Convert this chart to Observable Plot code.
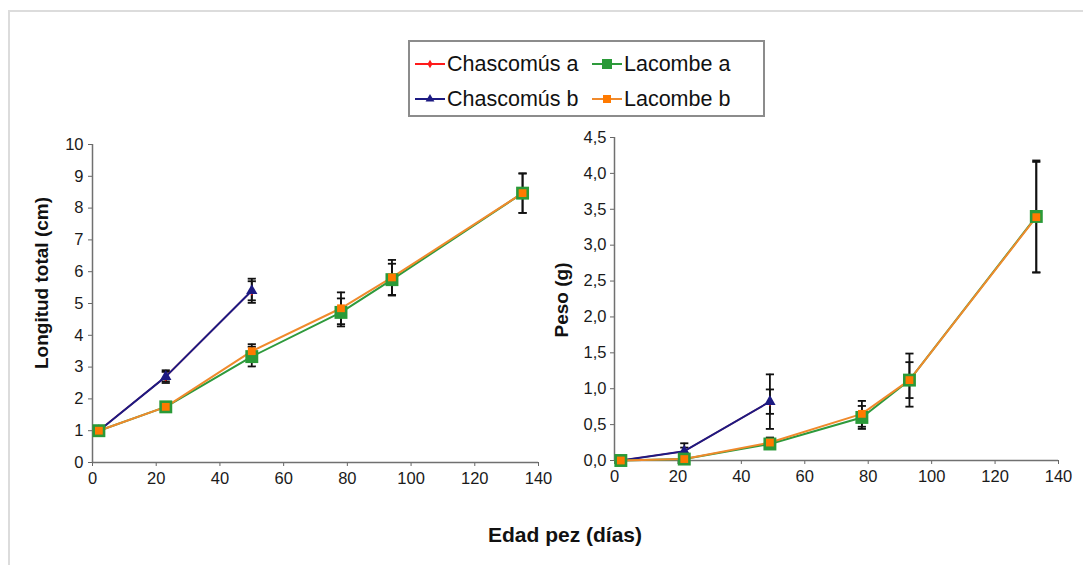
<!DOCTYPE html>
<html><head><meta charset="utf-8">
<script src="https://cdn.jsdelivr.net/npm/d3@7"></script>
<script src="https://cdn.jsdelivr.net/npm/@observablehq/plot@0.6"></script>
<style>
body{margin:0;background:#fff;font-family:"Liberation Sans",Arial,sans-serif;}
#wrap{position:relative;width:1083px;height:565px;overflow:hidden;background:#fff;}
#frame{position:absolute;left:8px;top:10px;right:-4px;bottom:-4px;border-top:2px solid #dcdcdc;border-left:2px solid #dcdcdc;}
.plot{position:absolute;top:120px;}
.plot svg text{font-size:16.5px !important;font-family:"Liberation Sans",Arial,sans-serif;fill:#1a1a1a;}
#legend{position:absolute;left:408px;top:40px;width:353px;height:73px;border:2px solid #8c8c8c;background:#fff;}
.item{position:absolute;font-size:21.5px;color:#111;display:flex;align-items:center;height:26px;}
.item svg{margin-right:1px;}
.ytitle{position:absolute;font-weight:bold;font-size:19px;color:#111;white-space:nowrap;transform:translate(-50%,-50%) rotate(-90deg);}
#xtitle{position:absolute;left:565px;top:535px;transform:translate(-50%,-50%);font-weight:bold;font-size:21px;color:#111;white-space:nowrap;}
</style></head>
<body>
<div id="wrap">
  <div id="frame"></div>
  <div id="p1" class="plot" style="left:0px"></div>
  <div id="p2" class="plot" style="left:540px"></div>
  <div id="legend"></div>
  <div class="ytitle" style="left:42px;top:283px">Longitud total (cm)</div>
  <div class="ytitle" style="left:562px;top:300px">Peso (g)</div>
  <div id="xtitle">Edad pez (días)</div>
</div>
<script>
// ---- Data ----
const seriesNames = ["Chascomús a", "Chascomús b", "Lacombe a", "Lacombe b"];

// Longitud total (cm)
const ageLen = [2, 23, 50, 78, 94, 135];
const chasALen = [1.0, 2.7, 5.4];
const chasALenErr = [0.03, 0.15, 0.3];
const chasBLen = [1.0, 2.7, 5.4];
const chasBLenErr = [0.03, 0.2, 0.38];
const lacALen = [1.0, 1.75, 3.33, 4.72, 5.75, 8.47];
const lacALenErr = [0.03, 0.05, 0.31, 0.44, 0.5, 0.62];
const lacBLen = [1.0, 1.75, 3.5, 4.85, 5.82, 8.47];
const lacBLenErr = [0.03, 0.05, 0.22, 0.5, 0.55, 0.62];

// Peso (g)
const ageW = [2, 22, 49, 78, 93, 133];
const chasAW = [0.0, 0.13, 0.82];
const chasAWErr = [0.0, 0.05, 0.17];
const chasBW = [0.0, 0.13, 0.82];
const chasBWErr = [0.0, 0.11, 0.38];
const lacAW = [0.0, 0.02, 0.23, 0.6, 1.12, 3.4];
const lacAWErr = [0.0, 0.01, 0.05, 0.16, 0.37, 0.78];
const lacBW = [0.0, 0.02, 0.25, 0.65, 1.12, 3.39];
const lacBWErr = [0.0, 0.01, 0.07, 0.18, 0.25, 0.77];

const lenTicks = d3.range(0, 11, 1);
const wTicks = d3.range(0, 4.51, 0.5);
const ageTicks = d3.range(0, 141, 20);

// ---- Styles ----
const colors = {"Chascomús a": "#ff1a1a", "Chascomús b": "#1c1a82", "Lacombe a": "#2e9a3c", "Lacombe b": "#f08a2c"};
const markerFill = {"Chascomús a": "#ff1a1a", "Chascomús b": "#1c1a82", "Lacombe a": "#2a9a38", "Lacombe b": "#ff7a00"};
const markerSym = {"Chascomús a": "diamond", "Chascomús b": "triangle", "Lacombe a": "square", "Lacombe b": "square"};
const markerR = {"Chascomús a": 3, "Chascomús b": 4.2, "Lacombe a": 7.3, "Lacombe b": 4.4};
const lineW = {"Chascomús a": 1.5, "Chascomús b": 2, "Lacombe a": 2, "Lacombe b": 2};

const cap = {draw(ctx, size) { const w = Math.sqrt(size) / 2; ctx.moveTo(-w, 0); ctx.lineTo(w, 0); }};

function rows(name, ages, vals, errs) {
  return vals.map((v, i) => ({series: name, age: ages[i], v, lo: v - errs[i], hi: v + errs[i]}));
}
const lenData = [
  ...rows("Chascomús a", ageLen, chasALen, chasALenErr),
  ...rows("Chascomús b", ageLen, chasBLen, chasBLenErr),
  ...rows("Lacombe a", ageLen, lacALen, lacALenErr),
  ...rows("Lacombe b", ageLen, lacBLen, lacBLenErr)
];
const wData = [
  ...rows("Chascomús a", ageW, chasAW, chasAWErr),
  ...rows("Chascomús b", ageW, chasBW, chasBWErr),
  ...rows("Lacombe a", ageW, lacAW, lacAWErr),
  ...rows("Lacombe b", ageW, lacBW, lacBWErr)
];

function seriesMarks(data) {
  const marks = [];
  const err = data.filter(d => d.hi - d.lo > 0.025);
  marks.push(Plot.ruleX(err, {x: "age", y1: "lo", y2: "hi", stroke: "#111", strokeWidth: 1.8}));
  marks.push(Plot.dot(err, {x: "age", y: "lo", symbol: cap, r: 4.6, stroke: "#111", strokeWidth: 1.8, fill: "none"}));
  marks.push(Plot.dot(err, {x: "age", y: "hi", symbol: cap, r: 4.6, stroke: "#111", strokeWidth: 1.8, fill: "none"}));
  for (const s of seriesNames) {
    const d = data.filter(r => r.series === s);
    marks.push(Plot.line(d, {x: "age", y: "v", stroke: colors[s], strokeWidth: lineW[s]}));
  }
  for (const s of seriesNames) {
    const d = data.filter(r => r.series === s);
    marks.push(Plot.dot(d, {x: "age", y: "v", symbol: markerSym[s], r: markerR[s], fill: markerFill[s], stroke: "none"}));
  }
  return marks;
}

const baseStyle = {fontSize: "16.5px", fontFamily: "'Liberation Sans', Arial, sans-serif", color: "#1a1a1a", background: "transparent", overflow: "visible"};

const p1 = Plot.plot({
  width: 545, height: 378,
  marginLeft: 92, marginRight: 7, marginTop: 24, marginBottom: 36,
  style: baseStyle,
  x: {domain: [0, 140]},
  y: {domain: [0, 10]},
  marks: [
    Plot.axisX({ticks: ageTicks, tickSize: 4, tickPadding: 6, label: null, stroke: "#666"}),
    Plot.axisY({ticks: lenTicks, tickSize: 4, tickPadding: 5, label: null, stroke: "#666"}),
    Plot.ruleX([0], {stroke: "#707070", strokeWidth: 1.5}),
    Plot.ruleY([0], {stroke: "#707070", strokeWidth: 1.5}),
    ...seriesMarks(lenData)
  ]
});
document.getElementById("p1").appendChild(p1);

const p2 = Plot.plot({
  width: 543, height: 376,
  marginLeft: 74, marginRight: 25, marginTop: 17, marginBottom: 36,
  style: baseStyle,
  x: {domain: [0, 140]},
  y: {domain: [0, 4.5]},
  marks: [
    Plot.axisX({ticks: ageTicks, tickSize: 4, tickPadding: 6, label: null, stroke: "#666"}),
    Plot.axisY({ticks: wTicks, tickSize: 4, tickPadding: 4, label: null, stroke: "#666", tickFormat: d => d.toFixed(1).replace(".", ",")}),
    Plot.ruleX([0], {stroke: "#707070", strokeWidth: 1.5}),
    Plot.ruleY([0], {stroke: "#707070", strokeWidth: 1.5}),
    ...seriesMarks(wData)
  ]
});
document.getElementById("p2").appendChild(p2);

// ---- Legend ----
const legendPos = [[4, 9], [4, 44], [181, 9], [181, 44]];
const order = ["Chascomús a", "Chascomús b", "Lacombe a", "Lacombe b"];
const leg = document.getElementById("legend");
order.forEach((s, i) => {
  const it = document.createElement("div");
  it.className = "item";
  it.style.left = legendPos[i][0] + "px";
  it.style.top = legendPos[i][1] + "px";
  const sym = d3.symbol().type(markerSym[s] === "diamond" ? d3.symbolDiamond : markerSym[s] === "triangle" ? d3.symbolTriangle : d3.symbolSquare);
  let marker = "";
  if (s === "Lacombe a") marker = `<rect x="11" y="6" width="10" height="10" fill="${markerFill[s]}"/>`;
  else if (s === "Lacombe b") marker = `<rect x="12" y="7" width="8" height="8" fill="${markerFill[s]}"/>`;
  else marker = `<path transform="translate(16,11)" d="${sym.size(s === "Chascomús a" ? 22 : 34)()}" fill="${markerFill[s]}"/>`;
  it.innerHTML = `<svg width="32" height="22"><line x1="1" x2="31" y1="11" y2="11" stroke="${colors[s]}" stroke-width="2"/>${marker}</svg><span>${s}</span>`;
  leg.appendChild(it);
});
</script>
</body></html>
